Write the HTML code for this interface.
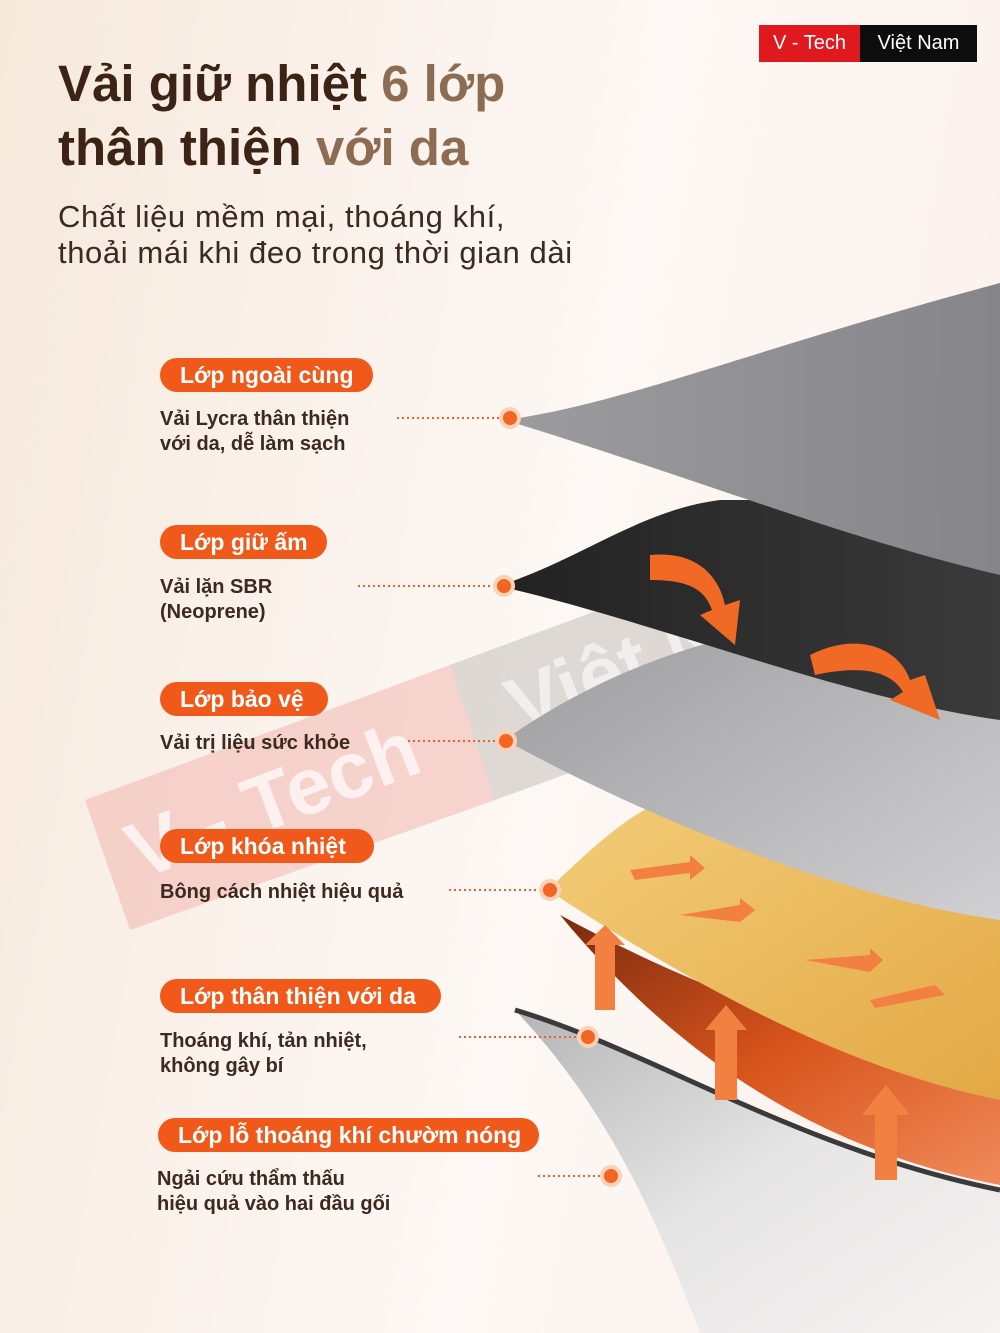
<!DOCTYPE html>
<html><head><meta charset="utf-8"><style>
*{margin:0;padding:0;box-sizing:border-box}
body{width:1000px;height:1333px;overflow:hidden;position:relative;font-family:"Liberation Sans",sans-serif;
background:linear-gradient(100deg,#f6e9dc 0%,#faf1ea 30%,#fdf8f5 55%,#fbefe9 100%)}
.abs{position:absolute}
h1{position:absolute;left:58px;font-size:51px;font-weight:bold;color:#3b2416;line-height:1}
h1 span{color:#8c6c52}
.sub{position:absolute;left:58px;font-size:31px;color:#3b2a1f;line-height:36px;letter-spacing:0.6px}
.pill{position:absolute;height:34px;border-radius:17px;background:#f0591a;color:#fff;font-weight:bold;font-size:23px;line-height:34px;padding-left:20px}
.desc{position:absolute;font-weight:bold;font-size:20px;color:#3b2a1f;line-height:25px}
</style></head><body>
<svg class="abs" style="left:0;top:0" width="1000" height="1333">
<defs>
<linearGradient id="g1" x1="0" y1="0" x2="1" y2="0"><stop offset="0" stop-color="#9c9c9e"/><stop offset="1" stop-color="#86868a"/></linearGradient>
<linearGradient id="g2" x1="0" y1="0" x2="1" y2="0"><stop offset="0" stop-color="#222"/><stop offset="1" stop-color="#3a3a3a"/></linearGradient>
<linearGradient id="g3" x1="0" y1="0" x2="1" y2="1"><stop offset="0" stop-color="#9a9a9c"/><stop offset="1" stop-color="#d0d0d2"/></linearGradient>
<linearGradient id="g4" x1="0" y1="0" x2="1" y2="1"><stop offset="0" stop-color="#f3cd79"/><stop offset="1" stop-color="#e3a845"/></linearGradient>
<linearGradient id="g5" x1="0" y1="0" x2="1" y2="1"><stop offset="0" stop-color="#7a2a10"/><stop offset="0.5" stop-color="#d8541c"/><stop offset="1" stop-color="#f08a5a"/></linearGradient>
<linearGradient id="g6" x1="0" y1="0" x2="1" y2="1"><stop offset="0" stop-color="#b5b5b7"/><stop offset="0.5" stop-color="#e6e5e5"/><stop offset="1" stop-color="#f6f3f2"/></linearGradient>
</defs>
<polygon points="85,800 450,665 495,800 130,930" fill="#f2b7b0" opacity="0.55"/>
<polygon points="450,665 720,565 770,700 495,800" fill="#b9b3b0" opacity="0.45"/>
<text x="140" y="880" font-size="80" font-weight="bold" fill="#fff" opacity="0.7" transform="rotate(-21 140 880)" font-family="Liberation Sans">V - Tech</text>
<text x="520" y="735" font-size="80" font-weight="bold" fill="#fff" opacity="0.6" transform="rotate(-21 520 735)" font-family="Liberation Sans">Việt Nam</text>
<path d="M515,1010 C650,1050 800,1150 1000,1190 L1000,1333 L700,1333 C650,1200 600,1100 515,1010Z" fill="url(#g6)"/>
<path d="M515,1010 C650,1050 800,1150 1000,1190" stroke="#3a3a3a" stroke-width="5" fill="none"/>
<path d="M560,915 C680,980 820,1040 1000,1060 L1000,1185 C820,1150 680,1060 560,915Z" fill="url(#g5)"/>
<path d="M548,890 C620,820 660,790 700,800 C800,830 900,870 1000,900 L1000,1100 C850,1070 700,990 548,890Z" fill="url(#g4)"/>
<path d="M505,740 C560,700 640,660 720,640 L1000,600 L1000,920 C850,900 650,820 505,740Z" fill="url(#g3)"/>
<path d="M498,586 C580,560 640,510 720,500 L1000,500 L1000,720 C850,700 650,620 498,586Z" fill="url(#g2)"/>
<path d="M505,420 C620,405 750,350 1000,283 L1000,575 C850,540 700,480 505,420Z" fill="url(#g1)"/>
<path d="M650,555 C700,550 720,580 725,605 L740,600 L735,645 L700,615 L712,610 C705,590 690,580 650,580Z" fill="#f06a25"/>
<path d="M810,655 C860,630 900,650 910,680 L925,675 L940,720 L890,700 L903,692 C890,670 860,665 815,675Z" fill="#f06a25"/>
<g fill="#f28040">
<rect x="595" y="940" width="20" height="70"/><polygon points="585,945 605,925 625,945"/>
<rect x="715" y="1020" width="22" height="80"/><polygon points="705,1030 726,1005 747,1030"/>
<rect x="875" y="1105" width="22" height="75"/><polygon points="862,1115 886,1085 910,1115"/>
<path d="M630,870 L690,862 L690,855 L705,868 L690,880 L690,873 L635,880Z"/>
<path d="M680,915 L740,905 L740,898 L755,910 L740,922 Z"/>
<path d="M805,960 L870,955 L870,948 L883,960 L870,972 Z"/>
<path d="M870,1000 L935,985 L945,995 L875,1008Z"/>
</g>
<g stroke="#e8632a" stroke-width="2" stroke-dasharray="2,3">
<line x1="397" y1="418" x2="500" y2="418"/><line x1="358" y1="586" x2="494" y2="586"/>
<line x1="408" y1="741" x2="496" y2="741"/><line x1="449" y1="890" x2="540" y2="890"/>
<line x1="459" y1="1037" x2="578" y2="1037"/><line x1="538" y1="1176" x2="601" y2="1176"/>
</g>
<g fill="#f26522" stroke="#fbd2b8" stroke-width="4">
<circle cx="510" cy="418" r="9"/><circle cx="504" cy="586" r="9"/><circle cx="506" cy="741" r="9"/>
<circle cx="550" cy="890" r="9"/><circle cx="588" cy="1037" r="9"/><circle cx="611" cy="1176" r="9"/>
</g>
</svg>
<div class="abs" style="left:759px;top:25px;width:101px;height:37px;background:#e0191f;color:#fff;font-size:20px;line-height:37px;text-align:center">V - Tech</div>
<div class="abs" style="left:860px;top:25px;width:117px;height:37px;background:#0d0d0d;color:#fff;font-size:20px;line-height:37px;text-align:center">Việt Nam</div>
<h1 style="top:58px">Vải giữ nhiệt <span>6 lớp</span></h1>
<h1 style="top:122px">thân thiện <span>với da</span></h1>
<div class="sub" style="top:199px">Chất liệu mềm mại, thoáng khí,<br>thoải mái khi đeo trong thời gian dài</div>
<div class="pill" style="left:160px;top:358px;width:213px">Lớp ngoài cùng</div>
<div class="desc" style="left:160px;top:407px">Vải Lycra thân thiện<br>với da, dễ làm sạch</div>
<div class="pill" style="left:160px;top:525px;width:167px">Lớp giữ ấm</div>
<div class="desc" style="left:160px;top:575px">Vải lặn SBR<br>(Neoprene)</div>
<div class="pill" style="left:160px;top:682px;width:168px">Lớp bảo vệ</div>
<div class="desc" style="left:160px;top:731px">Vải trị liệu sức khỏe</div>
<div class="pill" style="left:160px;top:829px;width:214px">Lớp khóa nhiệt</div>
<div class="desc" style="left:160px;top:880px">Bông cách nhiệt hiệu quả</div>
<div class="pill" style="left:160px;top:979px;width:281px">Lớp thân thiện với da</div>
<div class="desc" style="left:160px;top:1029px">Thoáng khí, tản nhiệt,<br>không gây bí</div>
<div class="pill" style="left:158px;top:1118px;width:381px">Lớp lỗ thoáng khí chườm nóng</div>
<div class="desc" style="left:157px;top:1167px">Ngải cứu thẩm thấu<br>hiệu quả vào hai đầu gối</div>
</body></html>
